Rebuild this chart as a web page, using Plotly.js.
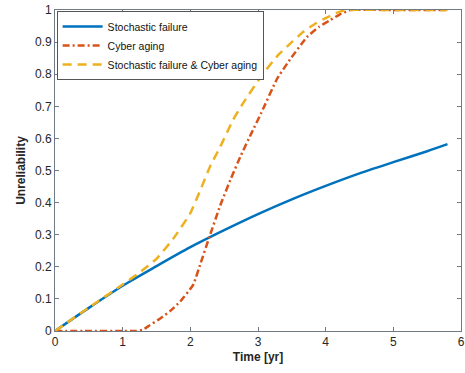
<!DOCTYPE html>
<html>
<head>
<meta charset="utf-8">
<script src="https://cdn.plot.ly/plotly-3.0.1.min.js"></script>
<style>html,body{margin:0;padding:0;background:#fff;}#chart{width:465px;height:373px;}</style>
</head>
<body>
<div id="chart"></div>
<script>
const seriesNames = ["Stochastic failure", "Cyber aging", "Stochastic failure & Cyber aging"];

const tStochastic = [0, 0.5, 1.0, 1.5, 2.0, 2.5, 3.0, 3.5, 4.0, 4.5, 5.0, 5.5, 5.8];
const uStochastic = [0, 0.072, 0.141, 0.202, 0.261, 0.314, 0.364, 0.410, 0.452, 0.491, 0.526, 0.560, 0.582];

const tCyber = [0, 0.5, 1.0, 1.2, 1.3, 1.4, 1.55, 1.7, 1.85, 2.04, 2.15, 2.28, 2.44, 2.6, 2.75, 2.9, 3.05, 3.28, 3.47, 3.72, 3.9, 4.06, 4.2, 4.36, 5.0, 5.8];
const uCyber = [0, 0, 0, 0, 0.004, 0.018, 0.038, 0.062, 0.092, 0.143, 0.21, 0.292, 0.39, 0.475, 0.548, 0.615, 0.68, 0.785, 0.845, 0.915, 0.947, 0.968, 0.985, 1.0, 1.0, 1.0];

const tCombined = [0, 0.5, 1.0, 1.25, 1.5, 1.75, 2.0, 2.15, 2.29, 2.44, 2.63, 2.78, 3.07, 3.3, 3.5, 3.67, 3.85, 4.0, 4.15, 4.3, 5.0, 5.8];
const uCombined = [0, 0.073, 0.145, 0.182, 0.225, 0.288, 0.367, 0.44, 0.512, 0.573, 0.657, 0.71, 0.80, 0.86, 0.9, 0.932, 0.958, 0.975, 0.99, 1.0, 1.0, 1.0];

const xTicks = [0, 1, 2, 3, 4, 5, 6];
const yTicks = [0, 0.1, 0.2, 0.3, 0.4, 0.5, 0.6, 0.7, 0.8, 0.9, 1];
const yTickText = ["0", "0.1", "0.2", "0.3", "0.4", "0.5", "0.6", "0.7", "0.8", "0.9", "1"];

const data = [
  {x: tStochastic, y: uStochastic, name: seriesNames[0], mode: "lines", type: "scatter",
   line: {color: "#0072BD", width: 2.5, shape: "spline", smoothing: 0.8}},
  {x: tCyber, y: uCyber, name: seriesNames[1], mode: "lines", type: "scatter",
   line: {color: "#D95319", width: 2.5, dash: "7px,3px,2px,3px", shape: "spline", smoothing: 0.4}},
  {x: tCombined, y: uCombined, name: seriesNames[2], mode: "lines", type: "scatter",
   line: {color: "#EDB120", width: 2.5, dash: "9px,6px", shape: "spline", smoothing: 0.4}}
];

const axisCommon = {
  showgrid: false, zeroline: false, showline: true, linecolor: "#6f7a84", linewidth: 1,
  mirror: "ticks", ticks: "inside", ticklen: 4, tickcolor: "#6f7a84",
  tickfont: {family: "Liberation Sans, Arial, sans-serif", size: 12, color: "#262626"}
};

const layout = {
  width: 465, height: 373,
  margin: {l: 55, r: 4, t: 10, b: 42},
  paper_bgcolor: "#ffffff", plot_bgcolor: "#ffffff",
  showlegend: true,
  legend: {x: 0.004, y: 0.997, xanchor: "left", yanchor: "top",
    bgcolor: "#ffffff", bordercolor: "#555555", borderwidth: 1,
    font: {family: "Liberation Sans, Arial, sans-serif", size: 10.5, color: "#111"},
    itemwidth: 40, tracegroupgap: 0},
  xaxis: Object.assign({}, axisCommon, {
    range: [0, 6], tickvals: xTicks, ticktext: xTicks.map(String),
    title: {text: "<b>Time [yr]</b>", standoff: 4, font: {family: "Liberation Sans, Arial, sans-serif", size: 12, color: "#262626"}}
  }),
  yaxis: Object.assign({}, axisCommon, {
    range: [0, 1], tickvals: yTicks, ticktext: yTickText,
    title: {text: "<b>Unreliability</b>", standoff: 6, font: {family: "Liberation Sans, Arial, sans-serif", size: 12, color: "#262626"}}
  })
};

Plotly.newPlot("chart", data, layout, {displayModeBar: false, staticPlot: true});
</script>
</body>
</html>
